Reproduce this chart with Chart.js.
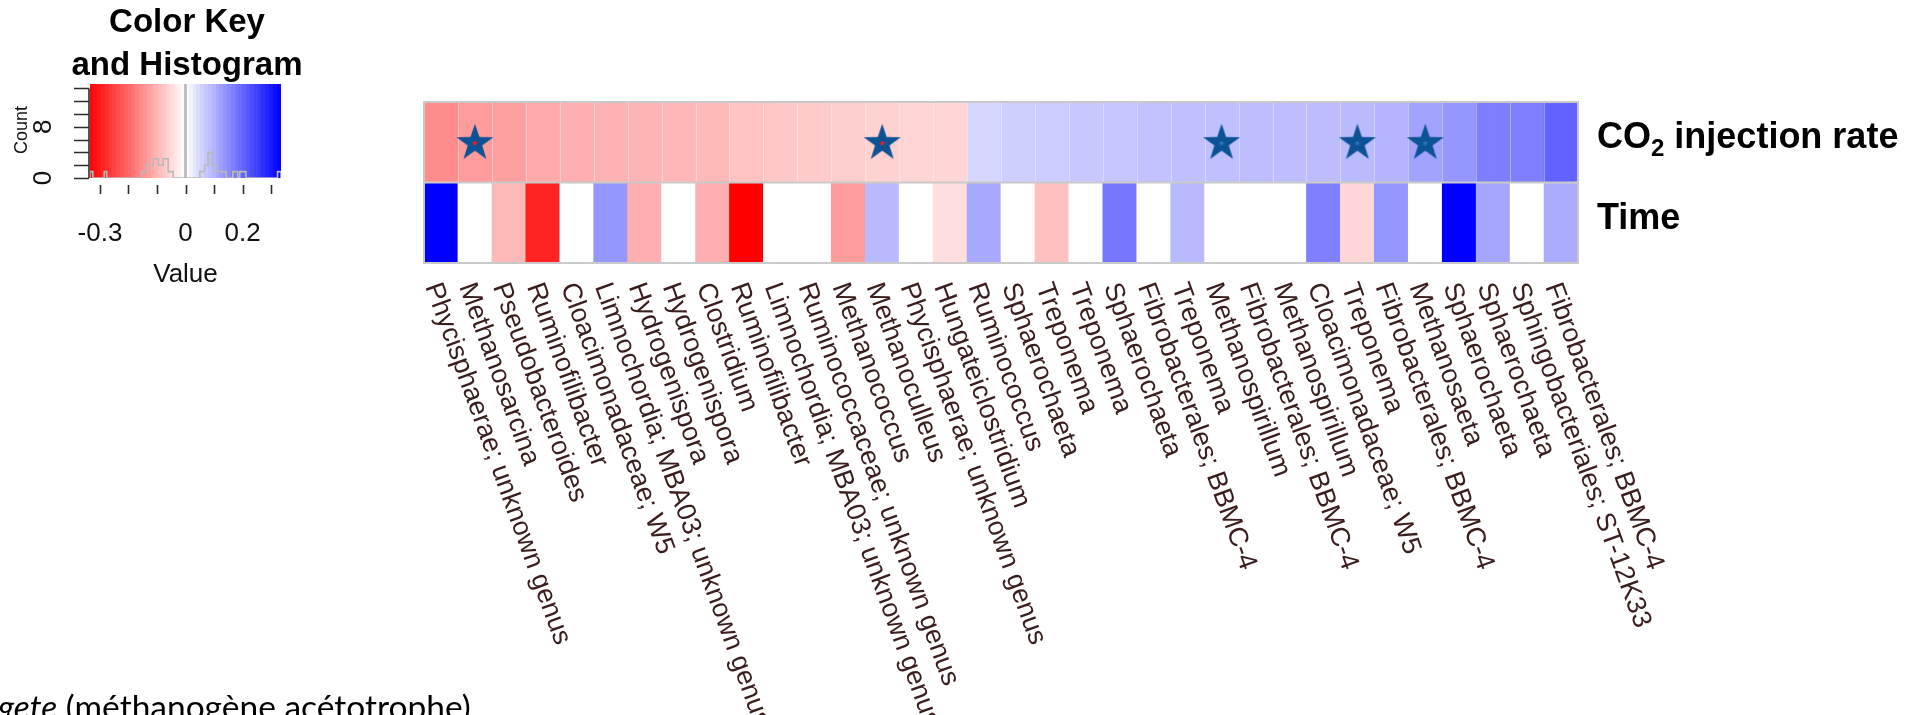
<!DOCTYPE html>
<html>
<head>
<meta charset="utf-8">
<script src="https://cdn.jsdelivr.net/npm/chart.js@4.4.1/dist/chart.umd.min.js"></script>
<style>
  html, body { margin: 0; padding: 0; background: #fff; overflow: hidden; }
  #wrap { position: relative; width: 1913px; height: 715px; overflow: hidden; }
  #wrap canvas { position: absolute; left: 0; top: 0; }
  #note { position: absolute; left: -2px; top: 686px; font-size: 33.5px; font-family: Lato, "Open Sans", sans-serif; color: #000; white-space: nowrap; }
</style>
</head>
<body>
<div id="wrap">
  <canvas id="heatmap" width="1913" height="715"></canvas>
  <canvas id="colorKey" width="1913" height="715"></canvas>
  <div id="note"><i>gete</i> (méthanogène acétotrophe)</div>
</div>
<script>
// genera (columns of the heatmap)
const genera = [
  'Phycisphaerae; unknown genus', 'Methanosarcina', 'Pseudobacteroides', 'Ruminofilibacter',
  'Cloacimonadaceae; W5', 'Limnochordia; MBA03; unknown genus', 'Hydrogenispora', 'Hydrogenispora',
  'Clostridium', 'Ruminofilibacter', 'Limnochordia; MBA03; unknown genus', 'Ruminococcaceae; unknown genus',
  'Methanococcus', 'Methanoculleus', 'Phycisphaerae; unknown genus', 'Hungateiclostridium',
  'Ruminococcus', 'Sphaerochaeta', 'Treponema', 'Treponema', 'Sphaerochaeta',
  'Fibrobacterales; BBMC-4', 'Treponema', 'Methanospirillum', 'Fibrobacterales; BBMC-4',
  'Methanospirillum', 'Cloacimonadaceae; W5', 'Treponema', 'Fibrobacterales; BBMC-4',
  'Methanosaeta', 'Sphaerochaeta', 'Sphaerochaeta', 'Sphingobacteriales; ST-12K33',
  'Fibrobacterales; BBMC-4'
];

// correlation with CO2 injection rate (top row)
const co2Rate = [
  -0.151, -0.131, -0.125, -0.112, -0.105, -0.101, -0.099, -0.096, -0.092, -0.079,
  -0.072, -0.070, -0.066, -0.059, -0.056, -0.055, 0.054, 0.064, 0.067, 0.072,
  0.076, 0.080, 0.083, 0.083, 0.085, 0.086, 0.088, 0.091, 0.099, 0.122,
  0.138, 0.171, 0.170, 0.206
];

// correlation with time (bottom row), 0 = not significant
const timeCorr = [
  0.335, 0, -0.092, -0.289, 0, 0.138, -0.105, 0, -0.105, -0.335,
  0, 0, -0.131, 0.092, 0, -0.043, 0.114, 0, -0.083, 0,
  0.180, 0, 0.092, 0, 0, 0, 0.167, -0.053, 0.138, 0,
  0.335, 0.118, 0, 0.109
];

const rowNames = ['Time', 'CO2 injection rate'];

// columns flagged with a star, and the colour of the small star in their centre
const starCols = [1, 13, 23, 27, 29];
const starCore = ['#ff1a1a', '#ff1a1a', '#2a78c8', '#2a78c8', '#2a78c8'];

// color key and histogram
const keyTicks = [-0.3, -0.2, -0.1, 0, 0.1, 0.2, 0.3];
const keyTickLabels = ['-0.3', '', '', '0', '', '0.2', ''];
const countTicks = [0, 2, 4, 6, 8, 10, 12, 14];
const countTickLabels = ['0', '', '', '', '8', '', '', ''];
const histBreaks = [-0.335, -0.325, -0.285, -0.276, -0.153, -0.136, -0.113, -0.095, -0.078, -0.061, -0.043,
  -0.002, 0.002, 0.05, 0.067, 0.079, 0.094, 0.108, 0.125, 0.143, 0.166, 0.183, 0.19, 0.212, 0.323, 0.335];
const histCounts = [1, 0, 1, 0, 1, 2, 3, 2, 3, 1, 0,
  22, 0, 1, 2, 4, 2, 1, 1, 0, 1, 0, 1, 0, 1];

const KEY_MAX = 0.335;
const LABEL_COLOR = '#3a1d1d';
const SANS = '"Liberation Sans", Arial, Helvetica, sans-serif';

function cellColor(v) {
  const t = Math.min(1, Math.abs(v) / KEY_MAX);
  const c = Math.round(255 * (1 - t));
  return v < 0 ? `rgb(255, ${c}, ${c})` : `rgb(${c}, ${c}, 255)`;
}

function makeStar(core) {
  const size = 42;
  const cv = document.createElement('canvas');
  cv.width = size;
  cv.height = size;
  const g = cv.getContext('2d');
  const drawStar = (cx, cy, R, r) => {
    g.beginPath();
    for (let k = 0; k < 10; k++) {
      const rad = k % 2 === 0 ? R : r;
      const a = -Math.PI / 2 + k * Math.PI / 5;
      const px = cx + rad * Math.cos(a);
      const py = cy + rad * Math.sin(a);
      k === 0 ? g.moveTo(px, py) : g.lineTo(px, py);
    }
    g.closePath();
    g.fill();
  };
  g.fillStyle = '#0b5394';
  drawStar(size / 2, size / 2 + 1, 19.5, 7.6);
  g.fillStyle = core;
  drawStar(size / 2, size / 2 + 1, 3.2, 1.3);
  return cv;
}

// one star image per column (false where there is no star)
const starImages = genera.map((g, i) => {
  const k = starCols.indexOf(i);
  return k >= 0 ? makeStar(starCore[k]) : false;
});

// thin cell separators + grey frame, drawn under the stars
const cellFrame = {
  id: 'cellFrame',
  afterDatasetDraw(chart, args) {
    if (args.index !== 0) return;
    const { ctx, chartArea: a, scales: { x, y } } = chart;
    ctx.save();
    ctx.strokeStyle = 'rgba(255, 255, 255, 0.35)';
    ctx.lineWidth = 1;
    for (let i = 1; i < genera.length; i++) {
      const px = Math.round((x.getPixelForValue(i - 1) + x.getPixelForValue(i)) / 2) + 0.5;
      ctx.beginPath();
      ctx.moveTo(px, y.getPixelForValue(2));
      ctx.lineTo(px, y.getPixelForValue(1));
      ctx.stroke();
    }
    ctx.strokeStyle = '#c9c9c9';
    ctx.lineWidth = 2;
    ctx.strokeRect(a.left, a.top, a.right - a.left, a.bottom - a.top);
    ctx.beginPath();
    ctx.moveTo(a.left, y.getPixelForValue(1));
    ctx.lineTo(a.right, y.getPixelForValue(1));
    ctx.stroke();
    ctx.restore();
  }
};

// rotated genus names under the columns and row names on the right
const heatmapText = {
  id: 'heatmapText',
  afterDraw(chart) {
    const { ctx, chartArea: a, scales: { x, y } } = chart;
    ctx.save();
    ctx.font = `27px ${SANS}`;
    ctx.fillStyle = LABEL_COLOR;
    ctx.textAlign = 'left';
    ctx.textBaseline = 'middle';
    genera.forEach((name, i) => {
      ctx.save();
      ctx.translate(x.getPixelForValue(i) - 9, a.bottom + 21);
      ctx.rotate(70 * Math.PI / 180);
      ctx.fillText(name, 0, 0);
      ctx.restore();
    });

    ctx.fillStyle = '#000';
    ctx.textBaseline = 'alphabetic';
    const x0 = a.right + 19;
    let base = y.getPixelForValue(1.5) + 6;
    ctx.font = `bold 36px ${SANS}`;
    ctx.fillText('CO', x0, base);
    let xx = x0 + ctx.measureText('CO').width;
    ctx.font = `bold 24px ${SANS}`;
    ctx.fillText('2', xx, base + 8);
    xx += ctx.measureText('2').width;
    ctx.font = `bold 36px ${SANS}`;
    ctx.fillText(' injection rate', xx, base);
    base = y.getPixelForValue(0.5) + 6;
    ctx.fillText('Time', x0, base);
    ctx.restore();
  }
};

new Chart(document.getElementById('heatmap'), {
  type: 'bar',
  data: {
    labels: genera,
    datasets: [
      {
        label: rowNames[0],
        data: timeCorr.map(() => [0, 1]),
        backgroundColor: timeCorr.map(cellColor),
        grouped: false,
        categoryPercentage: 1,
        barPercentage: 1,
        borderWidth: 0
      },
      {
        label: rowNames[1],
        data: co2Rate.map(() => [1, 2]),
        backgroundColor: co2Rate.map(cellColor),
        grouped: false,
        categoryPercentage: 1,
        barPercentage: 1,
        borderWidth: 0
      },
      {
        type: 'line',
        label: 'significant',
        order: -1,
        data: genera.map((g, i) => (starCols.includes(i) ? 1.5 : null)),
        showLine: false,
        pointStyle: ctx => starImages[ctx.dataIndex],
        pointRadius: 20,
        clip: false
      }
    ]
  },
  options: {
    responsive: false,
    animation: false,
    events: [],
    layout: { padding: { left: 424, top: 102, right: 1913 - 1578, bottom: 715 - 263 } },
    plugins: { legend: { display: false }, tooltip: { enabled: false } },
    scales: {
      x: { display: false, offset: true },
      y: { display: false, min: 0, max: 2 }
    }
  },
  plugins: [cellFrame, heatmapText]
});

// step outline of the value histogram
const histPoints = [{ x: histBreaks[0], y: 0 }].concat(
  histBreaks.map((b, i) => ({ x: b, y: i < histCounts.length ? histCounts[i] : 0 }))
);

const keyDecor = {
  id: 'keyDecor',
  beforeDatasetsDraw(chart) {
    const { ctx, chartArea: a, scales: { x } } = chart;
    const bands = 50;
    const step = (2 * KEY_MAX) / bands;
    ctx.save();
    for (let k = 0; k < bands; k++) {
      const v0 = -KEY_MAX + k * step;
      const x0 = Math.floor(x.getPixelForValue(v0));
      const x1 = Math.ceil(x.getPixelForValue(v0 + step));
      ctx.fillStyle = cellColor(v0 + step / 2);
      ctx.fillRect(x0, a.top, x1 - x0, a.bottom - a.top);
    }
    ctx.restore();
  },
  afterDraw(chart) {
    const { ctx, chartArea: a, scales: { x, y } } = chart;
    ctx.save();
    ctx.strokeStyle = '#2b2b2b';
    ctx.lineWidth = 1.6;
    // count axis
    ctx.beginPath();
    ctx.moveTo(a.left - 1, y.getPixelForValue(0));
    ctx.lineTo(a.left - 1, y.getPixelForValue(14));
    countTicks.forEach(c => {
      const py = Math.round(y.getPixelForValue(c)) + 0.5;
      ctx.moveTo(a.left - 16, py);
      ctx.lineTo(a.left - 1, py);
    });
    // value ticks
    keyTicks.forEach(v => {
      const px = Math.round(x.getPixelForValue(v)) + 0.5;
      ctx.moveTo(px, a.bottom + 7);
      ctx.lineTo(px, a.bottom + 16);
    });
    ctx.stroke();

    ctx.fillStyle = '#111';
    ctx.font = `26px ${SANS}`;
    ctx.textAlign = 'center';
    ctx.textBaseline = 'middle';
    keyTicks.forEach((v, i) => {
      if (keyTickLabels[i]) ctx.fillText(keyTickLabels[i], x.getPixelForValue(v), a.bottom + 56);
    });
    ctx.fillText('Value', (a.left + a.right) / 2, a.bottom + 97);

    countTicks.forEach((c, i) => {
      if (!countTickLabels[i]) return;
      ctx.save();
      ctx.translate(a.left - 46, y.getPixelForValue(c));
      ctx.rotate(-Math.PI / 2);
      ctx.font = `26px ${SANS}`;
      ctx.fillText(countTickLabels[i], 0, 0);
      ctx.restore();
    });
    ctx.save();
    ctx.translate(a.left - 68, y.getPixelForValue(7.5));
    ctx.rotate(-Math.PI / 2);
    ctx.font = `18px ${SANS}`;
    ctx.fillText('Count', 0, 0);
    ctx.restore();

    ctx.fillStyle = '#000';
    ctx.font = `bold 33px ${SANS}`;
    ctx.fillText('Color Key', 187, 23);
    ctx.fillText('and Histogram', 187, 66);
    ctx.restore();
  }
};

new Chart(document.getElementById('colorKey'), {
  type: 'line',
  data: {
    datasets: [{
      data: histPoints,
      stepped: 'before',
      borderColor: '#b9b9b9',
      borderWidth: 1.6,
      pointRadius: 0,
      fill: false
    }]
  },
  options: {
    responsive: false,
    animation: false,
    events: [],
    layout: { padding: { left: 90, top: 84, right: 1913 - 281, bottom: 715 - 178 } },
    plugins: { legend: { display: false }, tooltip: { enabled: false } },
    scales: {
      x: { type: 'linear', display: false, min: -KEY_MAX, max: KEY_MAX },
      y: { display: false, min: 0, max: 14.7 }
    }
  },
  plugins: [keyDecor]
});
</script>
</body>
</html>
